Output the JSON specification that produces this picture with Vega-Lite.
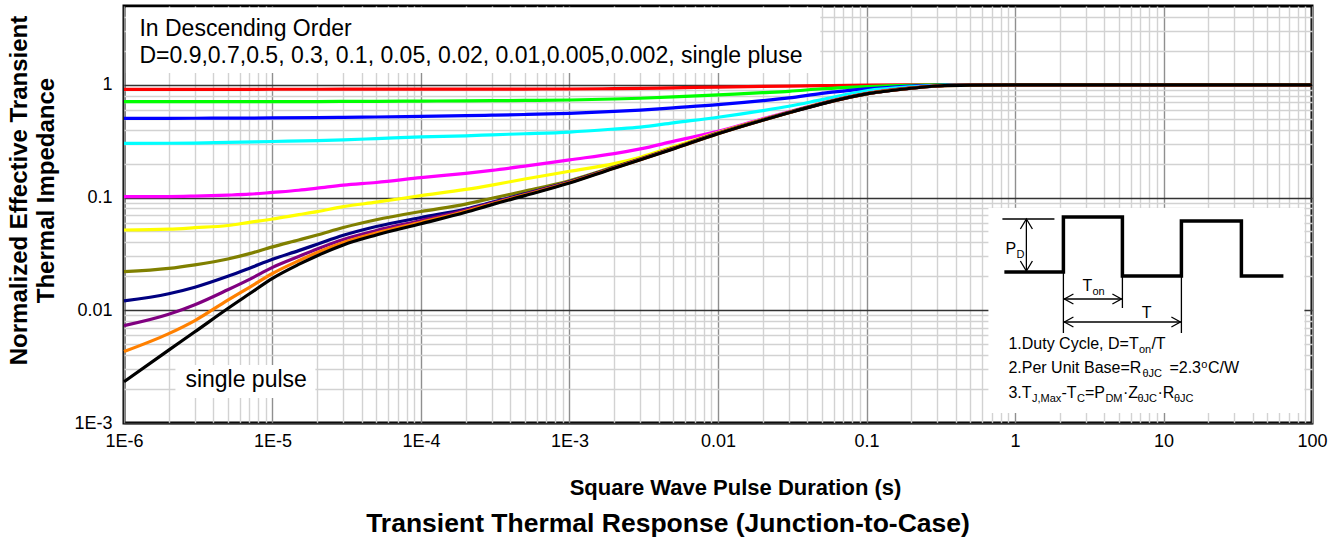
{
  "$schema": "https://vega.github.io/schema/vega-lite/v6.json",
  "width": 1188,
  "height": 417,
  "autosize": {"type": "none"},
  "padding": {"left": 124, "top": 6, "right": 29, "bottom": 122},
  "background": "white",
  "config": {
    "view": {"stroke": "black", "strokeWidth": 3},
    "font": "Liberation Sans"
  },
  "title": {
    "text": "Transient Thermal Response (Junction-to-Case)",
    "orient": "bottom",
    "anchor": "middle",
    "fontSize": 26.5,
    "fontWeight": "bold",
    "font": "Liberation Sans",
    "color": "black",
    "dx": -50,
    "offset": 34,
    "baseline": "alphabetic"
  },
  "datasets": {
    "curves": [
      {"s":"0.9","t":1e-6,"z":0.912},{"s":"0.9","t":2e-6,"z":0.912},{"s":"0.9","t":3e-6,"z":0.912},{"s":"0.9","t":5e-6,"z":0.912},{"s":"0.9","t":1e-5,"z":0.913},{"s":"0.9","t":2e-5,"z":0.913},{"s":"0.9","t":3e-5,"z":0.914},{"s":"0.9","t":5e-5,"z":0.914},{"s":"0.9","t":1e-4,"z":0.915},{"s":"0.9","t":2e-4,"z":0.916},{"s":"0.9","t":3e-4,"z":0.916},{"s":"0.9","t":5e-4,"z":0.917},{"s":"0.9","t":0.001,"z":0.918},{"s":"0.9","t":0.002,"z":0.925},{"s":"0.9","t":0.003,"z":0.93},{"s":"0.9","t":0.005,"z":0.94},{"s":"0.9","t":0.01,"z":0.955},{"s":"0.9","t":0.02,"z":0.968},{"s":"0.9","t":0.03,"z":0.975},{"s":"0.9","t":0.05,"z":0.983},{"s":"0.9","t":0.1,"z":0.993},{"s":"0.9","t":0.2,"z":0.998},{"s":"0.9","t":0.3,"z":1},{"s":"0.9","t":0.5,"z":1},{"s":"0.9","t":1,"z":1},{"s":"0.9","t":100,"z":1},
      {"s":"0.7","t":1e-6,"z":0.708},{"s":"0.7","t":2e-6,"z":0.708},{"s":"0.7","t":3e-6,"z":0.708},{"s":"0.7","t":5e-6,"z":0.708},{"s":"0.7","t":1e-5,"z":0.709},{"s":"0.7","t":2e-5,"z":0.71},{"s":"0.7","t":3e-5,"z":0.712},{"s":"0.7","t":5e-5,"z":0.714},{"s":"0.7","t":1e-4,"z":0.717},{"s":"0.7","t":2e-4,"z":0.72},{"s":"0.7","t":3e-4,"z":0.723},{"s":"0.7","t":5e-4,"z":0.727},{"s":"0.7","t":0.001,"z":0.733},{"s":"0.7","t":0.002,"z":0.748},{"s":"0.7","t":0.003,"z":0.76},{"s":"0.7","t":0.005,"z":0.78},{"s":"0.7","t":0.01,"z":0.815},{"s":"0.7","t":0.02,"z":0.851},{"s":"0.7","t":0.03,"z":0.875},{"s":"0.7","t":0.05,"z":0.922},{"s":"0.7","t":0.1,"z":0.965},{"s":"0.7","t":0.2,"z":0.99},{"s":"0.7","t":0.3,"z":0.997},{"s":"0.7","t":0.5,"z":1},{"s":"0.7","t":1,"z":1},{"s":"0.7","t":100,"z":1},
      {"s":"0.5","t":1e-6,"z":0.504},{"s":"0.5","t":2e-6,"z":0.504},{"s":"0.5","t":3e-6,"z":0.505},{"s":"0.5","t":5e-6,"z":0.506},{"s":"0.5","t":1e-5,"z":0.508},{"s":"0.5","t":2e-5,"z":0.512},{"s":"0.5","t":3e-5,"z":0.515},{"s":"0.5","t":5e-5,"z":0.518},{"s":"0.5","t":1e-4,"z":0.525},{"s":"0.5","t":2e-4,"z":0.532},{"s":"0.5","t":3e-4,"z":0.538},{"s":"0.5","t":5e-4,"z":0.545},{"s":"0.5","t":0.001,"z":0.558},{"s":"0.5","t":0.002,"z":0.58},{"s":"0.5","t":0.003,"z":0.597},{"s":"0.5","t":0.005,"z":0.625},{"s":"0.5","t":0.01,"z":0.666},{"s":"0.5","t":0.02,"z":0.723},{"s":"0.5","t":0.03,"z":0.765},{"s":"0.5","t":0.05,"z":0.84},{"s":"0.5","t":0.1,"z":0.92},{"s":"0.5","t":0.2,"z":0.975},{"s":"0.5","t":0.3,"z":0.99},{"s":"0.5","t":0.5,"z":1},{"s":"0.5","t":1,"z":1},{"s":"0.5","t":100,"z":1},
      {"s":"0.3","t":1e-6,"z":0.3026},{"s":"0.3","t":2e-6,"z":0.303},{"s":"0.3","t":3e-6,"z":0.304},{"s":"0.3","t":5e-6,"z":0.308},{"s":"0.3","t":1e-5,"z":0.314},{"s":"0.3","t":2e-5,"z":0.32},{"s":"0.3","t":3e-5,"z":0.325},{"s":"0.3","t":5e-5,"z":0.333},{"s":"0.3","t":1e-4,"z":0.345},{"s":"0.3","t":2e-4,"z":0.353},{"s":"0.3","t":3e-4,"z":0.36},{"s":"0.3","t":5e-4,"z":0.368},{"s":"0.3","t":0.001,"z":0.381},{"s":"0.3","t":0.002,"z":0.405},{"s":"0.3","t":0.003,"z":0.422},{"s":"0.3","t":0.005,"z":0.46},{"s":"0.3","t":0.01,"z":0.515},{"s":"0.3","t":0.02,"z":0.59},{"s":"0.3","t":0.03,"z":0.645},{"s":"0.3","t":0.05,"z":0.738},{"s":"0.3","t":0.1,"z":0.885},{"s":"0.3","t":0.2,"z":0.96},{"s":"0.3","t":0.3,"z":0.985},{"s":"0.3","t":0.5,"z":1},{"s":"0.3","t":1,"z":1},{"s":"0.3","t":100,"z":1},
      {"s":"0.1","t":1e-6,"z":0.1018},{"s":"0.1","t":2e-6,"z":0.102},{"s":"0.1","t":3e-6,"z":0.103},{"s":"0.1","t":5e-6,"z":0.105},{"s":"0.1","t":7e-6,"z":0.107},{"s":"0.1","t":1e-5,"z":0.111},{"s":"0.1","t":1.5e-5,"z":0.116},{"s":"0.1","t":2e-5,"z":0.121},{"s":"0.1","t":3e-5,"z":0.129},{"s":"0.1","t":5e-5,"z":0.136},{"s":"0.1","t":1e-4,"z":0.15},{"s":"0.1","t":2e-4,"z":0.164},{"s":"0.1","t":3e-4,"z":0.174},{"s":"0.1","t":5e-4,"z":0.19},{"s":"0.1","t":0.001,"z":0.216},{"s":"0.1","t":0.002,"z":0.245},{"s":"0.1","t":0.003,"z":0.27},{"s":"0.1","t":0.005,"z":0.315},{"s":"0.1","t":0.01,"z":0.387},{"s":"0.1","t":0.02,"z":0.5},{"s":"0.1","t":0.03,"z":0.577},{"s":"0.1","t":0.05,"z":0.69},{"s":"0.1","t":0.1,"z":0.84},{"s":"0.1","t":0.2,"z":0.94},{"s":"0.1","t":0.3,"z":0.977},{"s":"0.1","t":0.5,"z":0.996},{"s":"0.1","t":1,"z":1},{"s":"0.1","t":100,"z":1},
      {"s":"0.05","t":1e-6,"z":0.0515},{"s":"0.05","t":2e-6,"z":0.0524},{"s":"0.05","t":3e-6,"z":0.054},{"s":"0.05","t":5e-6,"z":0.0565},{"s":"0.05","t":7e-6,"z":0.0603},{"s":"0.05","t":1e-5,"z":0.0645},{"s":"0.05","t":1.5e-5,"z":0.0705},{"s":"0.05","t":2e-5,"z":0.075},{"s":"0.05","t":3e-5,"z":0.083},{"s":"0.05","t":5e-5,"z":0.091},{"s":"0.05","t":1e-4,"z":0.1038},{"s":"0.05","t":2e-4,"z":0.118},{"s":"0.05","t":3e-4,"z":0.129},{"s":"0.05","t":5e-4,"z":0.146},{"s":"0.05","t":0.001,"z":0.171},{"s":"0.05","t":0.002,"z":0.2},{"s":"0.05","t":0.003,"z":0.228},{"s":"0.05","t":0.005,"z":0.282},{"s":"0.05","t":0.01,"z":0.378},{"s":"0.05","t":0.02,"z":0.493},{"s":"0.05","t":0.03,"z":0.571},{"s":"0.05","t":0.05,"z":0.685},{"s":"0.05","t":0.1,"z":0.836},{"s":"0.05","t":0.2,"z":0.937},{"s":"0.05","t":0.3,"z":0.976},{"s":"0.05","t":0.5,"z":0.996},{"s":"0.05","t":1,"z":1},{"s":"0.05","t":100,"z":1},
      {"s":"0.02","t":1e-6,"z":0.022},{"s":"0.02","t":2e-6,"z":0.0235},{"s":"0.02","t":3e-6,"z":0.0253},{"s":"0.02","t":5e-6,"z":0.0285},{"s":"0.02","t":7e-6,"z":0.0318},{"s":"0.02","t":1e-5,"z":0.0365},{"s":"0.02","t":1.5e-5,"z":0.042},{"s":"0.02","t":2e-5,"z":0.0465},{"s":"0.02","t":3e-5,"z":0.0542},{"s":"0.02","t":5e-5,"z":0.0635},{"s":"0.02","t":1e-4,"z":0.0752},{"s":"0.02","t":2e-4,"z":0.0875},{"s":"0.02","t":3e-4,"z":0.0985},{"s":"0.02","t":5e-4,"z":0.114},{"s":"0.02","t":0.001,"z":0.141},{"s":"0.02","t":0.002,"z":0.187},{"s":"0.02","t":0.003,"z":0.221},{"s":"0.02","t":0.005,"z":0.275},{"s":"0.02","t":0.01,"z":0.373},{"s":"0.02","t":0.02,"z":0.489},{"s":"0.02","t":0.03,"z":0.569},{"s":"0.02","t":0.05,"z":0.682},{"s":"0.02","t":0.1,"z":0.834},{"s":"0.02","t":0.2,"z":0.936},{"s":"0.02","t":0.3,"z":0.976},{"s":"0.02","t":0.5,"z":0.996},{"s":"0.02","t":1,"z":1},{"s":"0.02","t":100,"z":1},
      {"s":"0.01","t":1e-6,"z":0.0121},{"s":"0.01","t":2e-6,"z":0.014},{"s":"0.01","t":3e-6,"z":0.016},{"s":"0.01","t":5e-6,"z":0.02},{"s":"0.01","t":7e-6,"z":0.0236},{"s":"0.01","t":1e-5,"z":0.0283},{"s":"0.01","t":1.5e-5,"z":0.0338},{"s":"0.01","t":2e-5,"z":0.0385},{"s":"0.01","t":3e-5,"z":0.0462},{"s":"0.01","t":5e-5,"z":0.0553},{"s":"0.01","t":1e-4,"z":0.0665},{"s":"0.01","t":2e-4,"z":0.079},{"s":"0.01","t":3e-4,"z":0.0905},{"s":"0.01","t":5e-4,"z":0.108},{"s":"0.01","t":0.001,"z":0.138},{"s":"0.01","t":0.002,"z":0.185},{"s":"0.01","t":0.003,"z":0.219},{"s":"0.01","t":0.005,"z":0.273},{"s":"0.01","t":0.01,"z":0.371},{"s":"0.01","t":0.02,"z":0.488},{"s":"0.01","t":0.03,"z":0.568},{"s":"0.01","t":0.05,"z":0.681},{"s":"0.01","t":0.1,"z":0.833},{"s":"0.01","t":0.2,"z":0.935},{"s":"0.01","t":0.3,"z":0.976},{"s":"0.01","t":0.5,"z":0.996},{"s":"0.01","t":1,"z":1},{"s":"0.01","t":100,"z":1},
      {"s":"0.005","t":1e-6,"z":0.0073},{"s":"0.005","t":2e-6,"z":0.0092},{"s":"0.005","t":3e-6,"z":0.0112},{"s":"0.005","t":5e-6,"z":0.0152},{"s":"0.005","t":7e-6,"z":0.0188},{"s":"0.005","t":1e-5,"z":0.024},{"s":"0.005","t":1.5e-5,"z":0.03},{"s":"0.005","t":2e-5,"z":0.035},{"s":"0.005","t":3e-5,"z":0.0425},{"s":"0.005","t":5e-5,"z":0.051},{"s":"0.005","t":1e-4,"z":0.0625},{"s":"0.005","t":2e-4,"z":0.0775},{"s":"0.005","t":3e-4,"z":0.0895},{"s":"0.005","t":5e-4,"z":0.1065},{"s":"0.005","t":0.001,"z":0.137},{"s":"0.005","t":0.002,"z":0.184},{"s":"0.005","t":0.003,"z":0.218},{"s":"0.005","t":0.005,"z":0.272},{"s":"0.005","t":0.01,"z":0.37},{"s":"0.005","t":0.02,"z":0.487},{"s":"0.005","t":0.03,"z":0.567},{"s":"0.005","t":0.05,"z":0.68},{"s":"0.005","t":0.1,"z":0.832},{"s":"0.005","t":0.2,"z":0.934},{"s":"0.005","t":0.3,"z":0.976},{"s":"0.005","t":0.5,"z":0.996},{"s":"0.005","t":1,"z":1},{"s":"0.005","t":100,"z":1},
      {"s":"0.002","t":1e-6,"z":0.0043},{"s":"0.002","t":2e-6,"z":0.0062},{"s":"0.002","t":3e-6,"z":0.0081},{"s":"0.002","t":5e-6,"z":0.0123},{"s":"0.002","t":7e-6,"z":0.016},{"s":"0.002","t":1e-5,"z":0.0212},{"s":"0.002","t":1.5e-5,"z":0.0275},{"s":"0.002","t":2e-5,"z":0.0325},{"s":"0.002","t":3e-5,"z":0.0399},{"s":"0.002","t":5e-5,"z":0.0484},{"s":"0.002","t":1e-4,"z":0.0603},{"s":"0.002","t":2e-4,"z":0.0755},{"s":"0.002","t":3e-4,"z":0.088},{"s":"0.002","t":5e-4,"z":0.1055},{"s":"0.002","t":0.001,"z":0.136},{"s":"0.002","t":0.002,"z":0.183},{"s":"0.002","t":0.003,"z":0.217},{"s":"0.002","t":0.005,"z":0.271},{"s":"0.002","t":0.01,"z":0.369},{"s":"0.002","t":0.02,"z":0.486},{"s":"0.002","t":0.03,"z":0.566},{"s":"0.002","t":0.05,"z":0.679},{"s":"0.002","t":0.1,"z":0.831},{"s":"0.002","t":0.2,"z":0.933},{"s":"0.002","t":0.3,"z":0.976},{"s":"0.002","t":0.5,"z":0.995},{"s":"0.002","t":1,"z":1},{"s":"0.002","t":100,"z":1},
      {"s":"single pulse","t":1e-6,"z":0.00232},{"s":"single pulse","t":2e-6,"z":0.00443},{"s":"single pulse","t":3e-6,"z":0.00644},{"s":"single pulse","t":5e-6,"z":0.01037},{"s":"single pulse","t":7e-6,"z":0.014},{"s":"single pulse","t":1e-5,"z":0.0192},{"s":"single pulse","t":1.5e-5,"z":0.0255},{"s":"single pulse","t":2e-5,"z":0.0305},{"s":"single pulse","t":3e-5,"z":0.038},{"s":"single pulse","t":5e-5,"z":0.0465},{"s":"single pulse","t":1e-4,"z":0.0585},{"s":"single pulse","t":2e-4,"z":0.074},{"s":"single pulse","t":3e-4,"z":0.0865},{"s":"single pulse","t":5e-4,"z":0.104},{"s":"single pulse","t":0.001,"z":0.1345},{"s":"single pulse","t":0.002,"z":0.182},{"s":"single pulse","t":0.003,"z":0.216},{"s":"single pulse","t":0.005,"z":0.27},{"s":"single pulse","t":0.01,"z":0.368},{"s":"single pulse","t":0.02,"z":0.485},{"s":"single pulse","t":0.03,"z":0.565},{"s":"single pulse","t":0.05,"z":0.678},{"s":"single pulse","t":0.1,"z":0.83},{"s":"single pulse","t":0.2,"z":0.932},{"s":"single pulse","t":0.3,"z":0.976},{"s":"single pulse","t":0.5,"z":0.995},{"s":"single pulse","t":1,"z":1},{"s":"single pulse","t":100,"z":1}
    ],
    "boxes": [
      {"t":1.03e-6,"t2":0.0489,"z":1.273,"z2":4.85},
      {"t":2.22e-6,"t2":1.945e-5,"z":0.001666,"z2":0.003269},
      {"t":0.6622,"t2":88.9,"z":0.001226,"z2":0.0807}
    ],
    "bigText": [
      {"text":"In Descending Order","t":1.27e-6,"z":2.71},
      {"text":"D=0.9,0.7,0.5, 0.3, 0.1, 0.05, 0.02, 0.01,0.005,0.002, single pluse","t":1.27e-6,"z":1.561},
      {"text":"single pulse","t":2.59e-6,"z":0.002086}
    ],
    "mainText": [
      {"text":"1.Duty Cycle, D=T","t":0.9029,"z":0.004532},
      {"text":"/T","t":8.289,"z":0.004532},
      {"text":"2.Per Unit Base=R","t":0.9029,"z":0.002776},
      {"text":"=2.3","t":10.96,"z":0.002776},
      {"text":"C/W","t":19.91,"z":0.002776},
      {"text":"3.T","t":0.9029,"z":0.001667},
      {"text":"-T","t":2.053,"z":0.001667},
      {"text":"=P","t":2.956,"z":0.001667},
      {"text":"·Z","t":5.33,"z":0.001667},
      {"text":"·R","t":9.095,"z":0.001667},
      {"text":"P","t":0.8618,"z":0.03155},
      {"text":"T","t":2.844,"z":0.01482},
      {"text":"T","t":7.13,"z":0.008537}
    ],
    "subText": [
      {"text":"on","t":6.83,"z":0.004178},
      {"text":"θJC","t":7.21,"z":0.002558},
      {"text":"o","t":17.99,"z":0.003076},
      {"text":"J,Max","t":1.3,"z":0.001535},
      {"text":"C","t":2.611,"z":0.001535},
      {"text":"DM","t":4.062,"z":0.001535},
      {"text":"θJC","t":6.672,"z":0.001535},
      {"text":"θJC","t":11.75,"z":0.001535},
      {"text":"D","t":1.022,"z":0.02908},
      {"text":"on","t":3.32,"z":0.01366}
    ],
    "wave": [
      {"o":1,"t":0.848,"z":0.02185},{"o":2,"t":2.118,"z":0.02185},{"o":3,"t":2.118,"z":0.0672},{"o":4,"t":5.288,"z":0.0672},{"o":5,"t":5.288,"z":0.02013},{"o":6,"t":13.2,"z":0.02013},{"o":7,"t":13.2,"z":0.0619},{"o":8,"t":33.46,"z":0.0619},{"o":9,"t":33.46,"z":0.02013},{"o":10,"t":64.19,"z":0.02013}
    ],
    "sketch": [
      {"seg":1,"o":1,"t":0.8226,"z":0.0645},{"seg":1,"o":2,"t":1.843,"z":0.0645},
      {"seg":2,"o":1,"t":1.193,"z":0.0645},{"seg":2,"o":2,"t":1.193,"z":0.02229},
      {"seg":3,"o":1,"t":1.087,"z":0.05257},{"seg":3,"o":2,"t":1.193,"z":0.0645},{"seg":3,"o":3,"t":1.31,"z":0.05257},
      {"seg":4,"o":1,"t":1.087,"z":0.02734},{"seg":4,"o":2,"t":1.193,"z":0.02229},{"seg":4,"o":3,"t":1.31,"z":0.02734},
      {"seg":5,"o":1,"t":2.118,"z":0.02185},{"seg":5,"o":2,"t":2.118,"z":0.006285},
      {"seg":6,"o":1,"t":5.288,"z":0.02013},{"seg":6,"o":2,"t":5.288,"z":0.01047},
      {"seg":7,"o":1,"t":13.2,"z":0.02013},{"seg":7,"o":2,"t":13.2,"z":0.006285},
      {"seg":8,"o":1,"t":2.118,"z":0.01259},{"seg":8,"o":2,"t":5.288,"z":0.01259},
      {"seg":9,"o":1,"t":2.474,"z":0.01394},{"seg":9,"o":2,"t":2.151,"z":0.01259},{"seg":9,"o":3,"t":2.474,"z":0.01136},
      {"seg":10,"o":1,"t":4.528,"z":0.01394},{"seg":10,"o":2,"t":5.207,"z":0.01259},{"seg":10,"o":3,"t":4.528,"z":0.01136},
      {"seg":11,"o":1,"t":2.118,"z":0.007866},{"seg":11,"o":2,"t":13.2,"z":0.007866},
      {"seg":12,"o":1,"t":2.474,"z":0.008713},{"seg":12,"o":2,"t":2.151,"z":0.007866},{"seg":12,"o":3,"t":2.474,"z":0.007104},
      {"seg":13,"o":1,"t":11.3,"z":0.008713},{"seg":13,"o":2,"t":13.0,"z":0.007866},{"seg":13,"o":3,"t":11.3,"z":0.007104}
    ]
  },
  "encoding": {
    "x": {
      "field": "t",
      "type": "quantitative",
      "scale": {"type": "log", "domain": [1e-6, 100], "nice": false},
      "axis": {
        "values": [1e-6,2e-6,3e-6,4e-6,5e-6,6e-6,7e-6,8e-6,9e-6,1e-5,2e-5,3e-5,4e-5,5e-5,6e-5,7e-5,8e-5,9e-5,1e-4,2e-4,3e-4,4e-4,5e-4,6e-4,7e-4,8e-4,9e-4,0.001,0.002,0.003,0.004,0.005,0.006,0.007,0.008,0.009,0.01,0.02,0.03,0.04,0.05,0.06,0.07,0.08,0.09,0.1,0.2,0.3,0.4,0.5,0.6,0.7,0.8,0.9,1,2,3,4,5,6,7,8,9,10,20,30,40,50,60,70,80,90,100],
        "labelExpr": "datum.value === 0.000001 ? '1E-6' : datum.value === 0.00001 ? '1E-5' : datum.value === 0.0001 ? '1E-4' : datum.value === 0.001 ? '1E-3' : datum.value === 0.01 ? '0.01' : datum.value === 0.1 ? '0.1' : datum.value === 1 ? '1' : datum.value === 10 ? '10' : datum.value === 100 ? '100' : ''",
        "grid": true,
        "gridColor": {"condition": {"test": "datum.value === 0.000001 || datum.value === 0.00001 || datum.value === 0.0001 || datum.value === 0.001 || datum.value === 0.01 || datum.value === 0.1 || datum.value === 1 || datum.value === 10 || datum.value === 100", "value": "#8f8f8f"}, "value": "#d2d2d2"},
        "gridWidth": 1.4,
        "ticks": false,
        "domain": false,
        "labelFont": "Liberation Sans",
        "labelFontSize": 18,
        "labelColor": "black",
        "labelPadding": 9,
        "labelFlush": false,
        "labelOverlap": false,
        "title": "Square Wave Pulse Duration (s)",
        "titleFont": "Liberation Sans",
        "titleFontSize": 22,
        "titleFontWeight": "bold",
        "titleColor": "black",
        "titleX": 611,
        "titleY": 71,
        "titleBaseline": "alphabetic"
      }
    },
    "y": {
      "field": "z",
      "type": "quantitative",
      "scale": {"type": "log", "domain": [0.001, 5], "nice": false},
      "axis": {
        "values": [0.001,0.002,0.003,0.004,0.005,0.006,0.007,0.008,0.009,0.01,0.02,0.03,0.04,0.05,0.06,0.07,0.08,0.09,0.1,0.2,0.3,0.4,0.5,0.6,0.7,0.8,0.9,1,2,3,4],
        "labelExpr": "datum.value === 0.001 ? '1E-3' : datum.value === 0.01 ? '0.01' : datum.value === 0.1 ? '0.1' : datum.value === 1 ? '1' : ''",
        "grid": true,
        "gridColor": {"condition": {"test": "datum.value === 0.001 || datum.value === 0.01 || datum.value === 0.1 || datum.value === 1", "value": "#333333"}, "value": "#d2d2d2"},
        "gridWidth": 1.4,
        "ticks": false,
        "domain": false,
        "labelFont": "Liberation Sans",
        "labelFontSize": 18,
        "labelColor": "black",
        "labelPadding": 12,
        "labelOverlap": false,
        "title": ["Normalized Effective Transient", "Thermal Impedance"],
        "titleFont": "Liberation Sans",
        "titleFontSize": 24,
        "titleFontWeight": "bold",
        "titleColor": "black",
        "titleLineHeight": 27,
        "titleBaseline": "middle",
        "titleX": -105,
        "titleY": 184
      }
    }
  },
  "layer": [
    {
      "data": {"name": "boxes"},
      "mark": {"type": "rect", "fill": "white", "strokeWidth": 0},
      "encoding": {
        "x2": {"field": "t2"},
        "y2": {"field": "z2"}
      }
    },
    {
      "data": {"name": "curves"},
      "mark": {"type": "line", "strokeWidth": 3.2, "interpolate": "monotone"},
      "encoding": {
        "color": {
          "field": "s",
          "type": "nominal",
          "scale": {
            "domain": ["0.9","0.7","0.5","0.3","0.1","0.05","0.02","0.01","0.005","0.002","single pulse"],
            "range": ["#ff0000","#00ff00","#0000ff","#00ffff","#ff00ff","#ffff00","#808000","#000080","#800080","#ff8000","#000000"]
          },
          "legend": null
        }
      }
    },
    {
      "data": {"name": "bigText"},
      "mark": {"type": "text", "align": "left", "baseline": "alphabetic", "fontSize": 23, "font": "Liberation Sans", "color": "black"},
      "encoding": {"text": {"field": "text"}}
    },
    {
      "data": {"name": "mainText"},
      "mark": {"type": "text", "align": "left", "baseline": "alphabetic", "fontSize": 16, "font": "Liberation Sans", "color": "black"},
      "encoding": {"text": {"field": "text"}}
    },
    {
      "data": {"name": "subText"},
      "mark": {"type": "text", "align": "left", "baseline": "alphabetic", "fontSize": 11, "font": "Liberation Sans", "color": "black"},
      "encoding": {"text": {"field": "text"}}
    },
    {
      "data": {"name": "wave"},
      "mark": {"type": "line", "color": "black", "strokeWidth": 3.5, "strokeJoin": "miter", "strokeCap": "butt"},
      "encoding": {"order": {"field": "o", "type": "quantitative"}}
    },
    {
      "data": {"name": "sketch"},
      "mark": {"type": "line", "color": "black", "strokeWidth": 1.3},
      "encoding": {
        "detail": {"field": "seg", "type": "nominal"},
        "order": {"field": "o", "type": "quantitative"}
      }
    }
  ]
}
